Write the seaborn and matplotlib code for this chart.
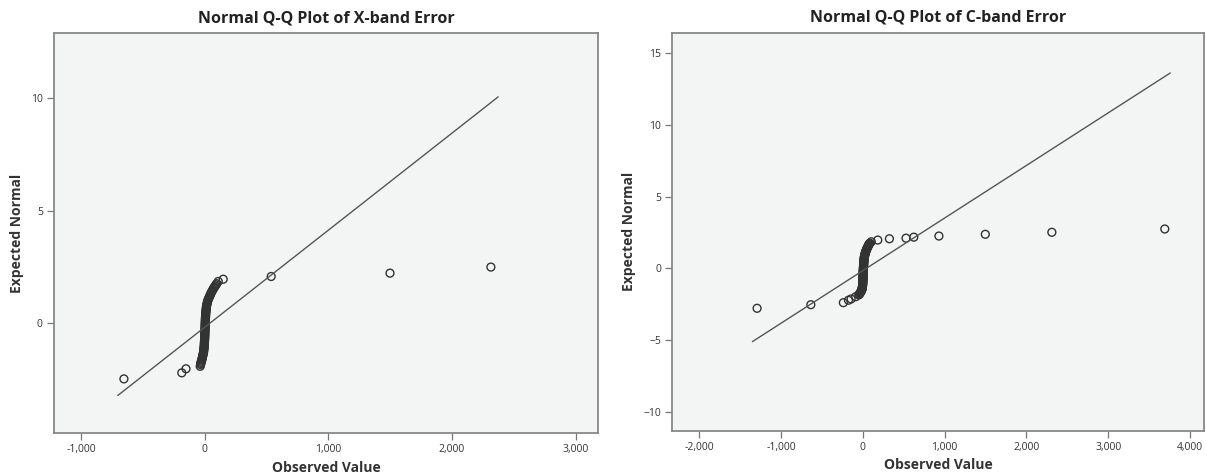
import matplotlib
matplotlib.use("Agg")
import matplotlib.pyplot as plt
from matplotlib.ticker import FuncFormatter
import seaborn as sns
import pandas as pd

x_obs = [-654, -186, -152, -37,
         -34, -32, -30, -27, -25, -22, -20, -18, -16, -14,
         -12, -10, -9, -8, -7, -6, -5, -4, -4, -3,
         -3, -2, -2, -1, -1, 0, 0, 0, 1, 1,
         1, 2, 2, 2, 3, 3, 3, 4, 4, 4,
         5, 5, 6, 6, 7, 7, 8, 9, 10, 11,
         12, 13, 14, 16, 18, 20, 22, 25, 28, 32,
         36, 40, 44, 48, 52, 57, 62, 67, 72, 78,
         84, 90, 96,
         109, 149, 537, 1498, 2314]
x_exp = [-2.49, -2.22, -2.04, -1.93,
         -1.85, -1.80, -1.75, -1.70, -1.65, -1.60, -1.55, -1.50, -1.45, -1.40,
         -1.35, -1.30, -1.25, -1.20, -1.15, -1.10, -1.05, -1.00, -0.95, -0.90,
         -0.85, -0.80, -0.75, -0.70, -0.65, -0.60, -0.55, -0.50, -0.45, -0.40,
         -0.35, -0.30, -0.25, -0.20, -0.15, -0.10, -0.05, 0.00, 0.05, 0.10,
         0.15, 0.20, 0.25, 0.30, 0.35, 0.40, 0.45, 0.50, 0.55, 0.60,
         0.65, 0.70, 0.75, 0.80, 0.85, 0.90, 0.95, 1.00, 1.05, 1.10,
         1.15, 1.20, 1.25, 1.30, 1.35, 1.40, 1.45, 1.50, 1.55, 1.60,
         1.65, 1.70, 1.75,
         1.85, 1.95, 2.07, 2.22, 2.49]
x_line_obs = [-704, 2373]
x_line_exp = [-3.23, 10.07]

# ---- C-band
c_obs = [-1291, -634, -237, -175, -142, -85,
         -48, -42, -36, -30, -25, -20, -16, -12, -9, -7,
         -5, -4, -3, -2, -1, -1, 0, 0, 1, 1,
         2, 2, 3, 3, 3, 4, 4, 4, 5, 5,
         5, 6, 6, 6, 7, 7, 8, 8, 9, 9,
         10, 10, 11, 11, 12, 12, 13, 14, 15, 16,
         17, 18, 19, 20, 22, 24, 26, 28, 30, 33,
         36, 39, 42, 46, 50, 54, 58, 62, 66, 70,
         75, 80, 86,
         104, 184, 326, 529, 624, 931, 1498, 2311, 3691]
c_exp = [-2.78, -2.53, -2.39, -2.22, -2.13, -1.97,
         -1.85, -1.80, -1.75, -1.70, -1.65, -1.60, -1.55, -1.50, -1.45, -1.40,
         -1.35, -1.30, -1.25, -1.20, -1.15, -1.10, -1.05, -1.00, -0.95, -0.90,
         -0.85, -0.80, -0.75, -0.70, -0.65, -0.60, -0.55, -0.50, -0.45, -0.40,
         -0.35, -0.30, -0.25, -0.20, -0.15, -0.10, -0.05, 0.00, 0.05, 0.10,
         0.15, 0.20, 0.25, 0.30, 0.35, 0.40, 0.45, 0.50, 0.55, 0.60,
         0.65, 0.70, 0.75, 0.80, 0.85, 0.90, 0.95, 1.00, 1.05, 1.10,
         1.15, 1.20, 1.25, 1.30, 1.35, 1.40, 1.45, 1.50, 1.55, 1.60,
         1.65, 1.70, 1.75,
         1.85, 1.97, 2.06, 2.10, 2.17, 2.25, 2.37, 2.51, 2.74]
c_line_obs = [-1348, 3758]
c_line_exp = [-5.1, 13.6]

x_ticks_x = [-1000, 0, 1000, 2000, 3000]
y_ticks_x = [0, 5, 10]
x_ticks_c = [-2000, -1000, 0, 1000, 2000, 3000, 4000]
y_ticks_c = [-10, -5, 0, 5, 10, 15]

sns.set_style("white")
plt.rcParams['font.family'] = ['Open Sans', 'DejaVu Sans']

fig = plt.figure(figsize=(12.07, 4.76), dpi=100)
ax1 = fig.add_axes([0.0447, 0.0903, 0.4507, 0.8397])
ax2 = fig.add_axes([0.5568, 0.0952, 0.4407, 0.8360])

panels = [
    (ax1, x_obs, x_exp, x_line_obs, x_line_exp, "Normal Q-Q Plot of X-band Error",
     (-1220, 3180), (-4.9, 12.9), x_ticks_x, y_ticks_x),
    (ax2, c_obs, c_exp, c_line_obs, c_line_exp, "Normal Q-Q Plot of C-band Error",
     (-2330, 4170), (-11.3, 16.4), x_ticks_c, y_ticks_c),
]

for ax, obs, exp, lo, le, title, xl, yl, xt, yt in panels:
    ax.set_facecolor("#f3f4f4")
    pts = pd.DataFrame({"obs": obs, "exp": exp})
    sns.lineplot(x=lo, y=le, ax=ax, color="#555555", linewidth=1.0)
    sns.scatterplot(data=pts, x="obs", y="exp", ax=ax, marker="o",
                    facecolor="none", edgecolor="#333333", linewidth=1.0, s=32)
    ax.set_xlim(*xl)
    ax.set_ylim(*yl)
    ax.set_xticks(xt)
    ax.set_yticks(yt)
    ax.xaxis.set_major_formatter(FuncFormatter(lambda v, p: f"{v:,.0f}"))
    ax.tick_params(axis="both", direction="out", length=5, width=0.9,
                   color="#777777", labelsize=7.5, labelcolor="#333333",
                   bottom=True, left=True, pad=3)
    for sp in ax.spines.values():
        sp.set_color("#888888")
        sp.set_linewidth(1.3)
    ax.set_title(title, fontsize=11.5, fontweight="bold", color="#222222", pad=8)
    ax.set_xlabel("Observed Value", fontsize=10, fontweight="bold", color="#333333",
                  labelpad=4)
    ax.set_ylabel("Expected Normal", fontsize=10, fontweight="bold", color="#333333",
                  labelpad=5)

fig.savefig("out.png", dpi=100)
